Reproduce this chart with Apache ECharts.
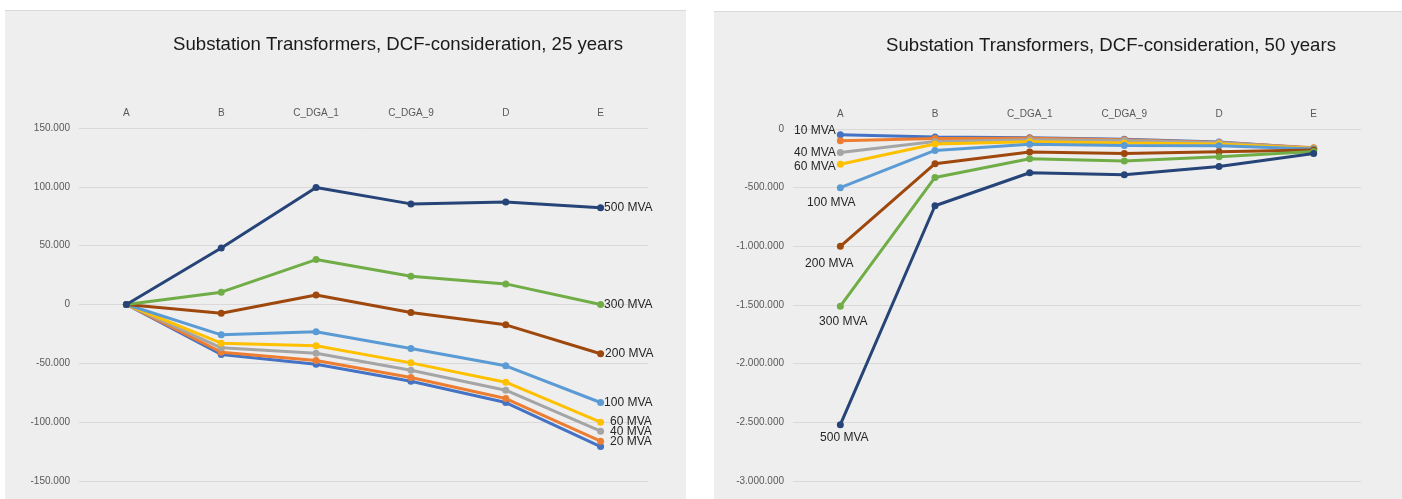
<!DOCTYPE html>
<html>
<head>
<meta charset="utf-8">
<title>Substation Transformers, DCF-consideration</title>
<script src="https://cdn.jsdelivr.net/npm/echarts@6/dist/echarts.min.js"></script>
<style>
  html, body { margin: 0; padding: 0; background: #ffffff; }
  #wrap { position: relative; width: 1402px; height: 499px; overflow: hidden; }
  .panel { position: absolute; background: #eeeeee; border-top: 1px solid #d9d9d9; box-sizing: border-box; }
  #chart { position: absolute; left: 0; top: 0; width: 1402px; height: 499px; }
</style>
</head>
<body>
<div id="wrap">
  <div class="panel" style="left:5px;top:10px;width:681px;height:489px"></div>
  <div class="panel" style="left:714px;top:11px;width:688px;height:488px"></div>
  <div id="chart"></div>
</div>
<script>
// Alternatives compared along the horizontal axis
const categories = ['A', 'B', 'C_DGA_1', 'C_DGA_9', 'D', 'E'];

// Transformer ratings (one line per rating)
const ratings = ['10 MVA', '20 MVA', '40 MVA', '60 MVA', '100 MVA', '200 MVA', '300 MVA', '500 MVA'];

// Discounted cash flow, 25-year horizon
const dcf25_10MVA  = [0, -42500, -50800, -65200, -83300, -120700];
const dcf25_20MVA  = [0, -40500, -47600, -62000, -79900, -116200];
const dcf25_40MVA  = [0, -36800, -41400, -55800, -72800, -107700];
const dcf25_60MVA  = [0, -32900, -35100, -49600, -66000, -100000];
const dcf25_100MVA = [0, -25800, -23100, -37400, -52100, -83300];
const dcf25_200MVA = [0, -7400, 8000, -6800, -17300, -41900];
const dcf25_300MVA = [0, 10500, 38200, 24000, 17500, 0];
const dcf25_500MVA = [0, 48000, 99500, 85500, 87200, 82300];

// Discounted cash flow, 50-year horizon
const dcf50_10MVA  = [-48000, -68000, -75000, -88000, -110000, -165000];
const dcf50_20MVA  = [-100000, -80000, -78000, -92000, -114000, -160000];
const dcf50_40MVA  = [-200000, -106000, -92000, -98000, -118000, -163000];
const dcf50_60MVA  = [-300000, -128000, -108000, -119000, -128000, -167000];
const dcf50_100MVA = [-500000, -183000, -131000, -140000, -143000, -170000];
const dcf50_200MVA = [-1000000, -296000, -196000, -208000, -194000, -180000];
const dcf50_300MVA = [-1510000, -413000, -253000, -273000, -236000, -191000];
const dcf50_500MVA = [-2520000, -654000, -373000, -390000, -319000, -208000];

// Chart titles
const title25 = 'Substation Transformers, DCF-consideration, 25 years';
const title50 = 'Substation Transformers, DCF-consideration, 50 years';

const values25 = [dcf25_10MVA, dcf25_20MVA, dcf25_40MVA, dcf25_60MVA, dcf25_100MVA, dcf25_200MVA, dcf25_300MVA, dcf25_500MVA];
const values50 = [dcf50_10MVA, dcf50_20MVA, dcf50_40MVA, dcf50_60MVA, dcf50_100MVA, dcf50_200MVA, dcf50_300MVA, dcf50_500MVA];

const palette = ['#4472c4', '#ed7d31', '#a5a5a5', '#ffc000', '#5b9bd5', '#9e480e', '#70ad47', '#264478'];
const FONT = 'Liberation Sans, Arial, sans-serif';

// Thousands separated by dots, e.g. -1.500.000
function fmtThousands(v) {
  const s = Math.abs(Math.round(v)).toString().replace(/\B(?=(\d{3})+(?!\d))/g, '.');
  return (v < 0 ? '-' : '') + s;
}

// Series name labels: 25-year chart labels the last point, 50-year chart the first point
const labelStyle = { color: '#262626', fontSize: 12, fontFamily: FONT };
const labels25 = {
  '20 MVA':  { position: 'right', distance: 6 },
  '40 MVA':  { position: 'right', distance: 6 },
  '60 MVA':  { position: 'right', distance: 6 },
  '100 MVA': { position: 'right', distance: 0 },
  '200 MVA': { position: 'right', distance: 1 },
  '300 MVA': { position: 'right', distance: 0 },
  '500 MVA': { position: 'right', distance: 0 }
};
const labels50 = {
  '10 MVA':  { position: 'left', distance: 1, offset: [0, -4] },
  '40 MVA':  { position: 'left', distance: 1, offset: [0, 0] },
  '60 MVA':  { position: 'left', distance: 1, offset: [0, 2] },
  '100 MVA': { position: 'bottom', distance: 6, offset: [-9, 0] },
  '200 MVA': { position: 'bottom', distance: 8, offset: [-11, 0] },
  '300 MVA': { position: 'bottom', distance: 6, offset: [3, 0] },
  '500 MVA': { position: 'bottom', distance: 4, offset: [4, 0] }
};

function buildSeries(valueSets, axisIndex, labelMap, labelIndex) {
  return ratings.map(function (name, i) {
    const data = valueSets[i].map(function (v, j) {
      if (j === labelIndex && labelMap[name]) {
        return {
          value: v,
          label: Object.assign({ show: true, formatter: name }, labelStyle, labelMap[name])
        };
      }
      return v;
    });
    return {
      name: name,
      type: 'line',
      xAxisIndex: axisIndex,
      yAxisIndex: axisIndex,
      data: data,
      symbol: 'circle',
      symbolSize: 7,
      lineStyle: { width: 3, color: palette[i] },
      itemStyle: { color: palette[i] },
      z: 2 + i,
      animation: false,
      emphasis: { disabled: true }
    };
  });
}

const xAxisBase = {
  type: 'category',
  data: categories,
  position: 'top',
  boundaryGap: true,
  axisLine: { show: false },
  axisTick: { show: false },
  axisLabel: { color: '#595959', fontSize: 10, fontFamily: FONT, margin: 10 },
  splitLine: { show: false }
};

const yAxisBase = {
  type: 'value',
  axisLine: { show: false },
  axisTick: { show: false },
  axisLabel: { color: '#595959', fontSize: 10, fontFamily: FONT, margin: 9, formatter: fmtThousands },
  splitLine: { lineStyle: { color: '#d9d9d9', width: 1 } }
};

const titleStyle = { color: '#1a1a1a', fontSize: 18.6, fontWeight: 'normal', fontFamily: FONT };

const chart = echarts.init(document.getElementById('chart'), null, { renderer: 'canvas' });
chart.setOption({
  backgroundColor: 'transparent',
  animation: false,
  title: [
    { text: title25, left: 393, top: 30, textAlign: 'center', textStyle: titleStyle },
    { text: title50, left: 1106, top: 31, textAlign: 'center', textStyle: titleStyle }
  ],
  grid: [
    { left: 79, top: 128, width: 569, height: 353 },
    { left: 793, top: 129, width: 568, height: 352 }
  ],
  xAxis: [
    Object.assign({}, xAxisBase, { gridIndex: 0 }),
    Object.assign({}, xAxisBase, { gridIndex: 1 })
  ],
  yAxis: [
    Object.assign({}, yAxisBase, { gridIndex: 0, min: -150000, max: 150000, interval: 50000 }),
    Object.assign({}, yAxisBase, { gridIndex: 1, min: -3000000, max: 0, interval: 500000 })
  ],
  series: buildSeries(values25, 0, labels25, 5).concat(buildSeries(values50, 1, labels50, 0))
});
</script>
</body>
</html>
